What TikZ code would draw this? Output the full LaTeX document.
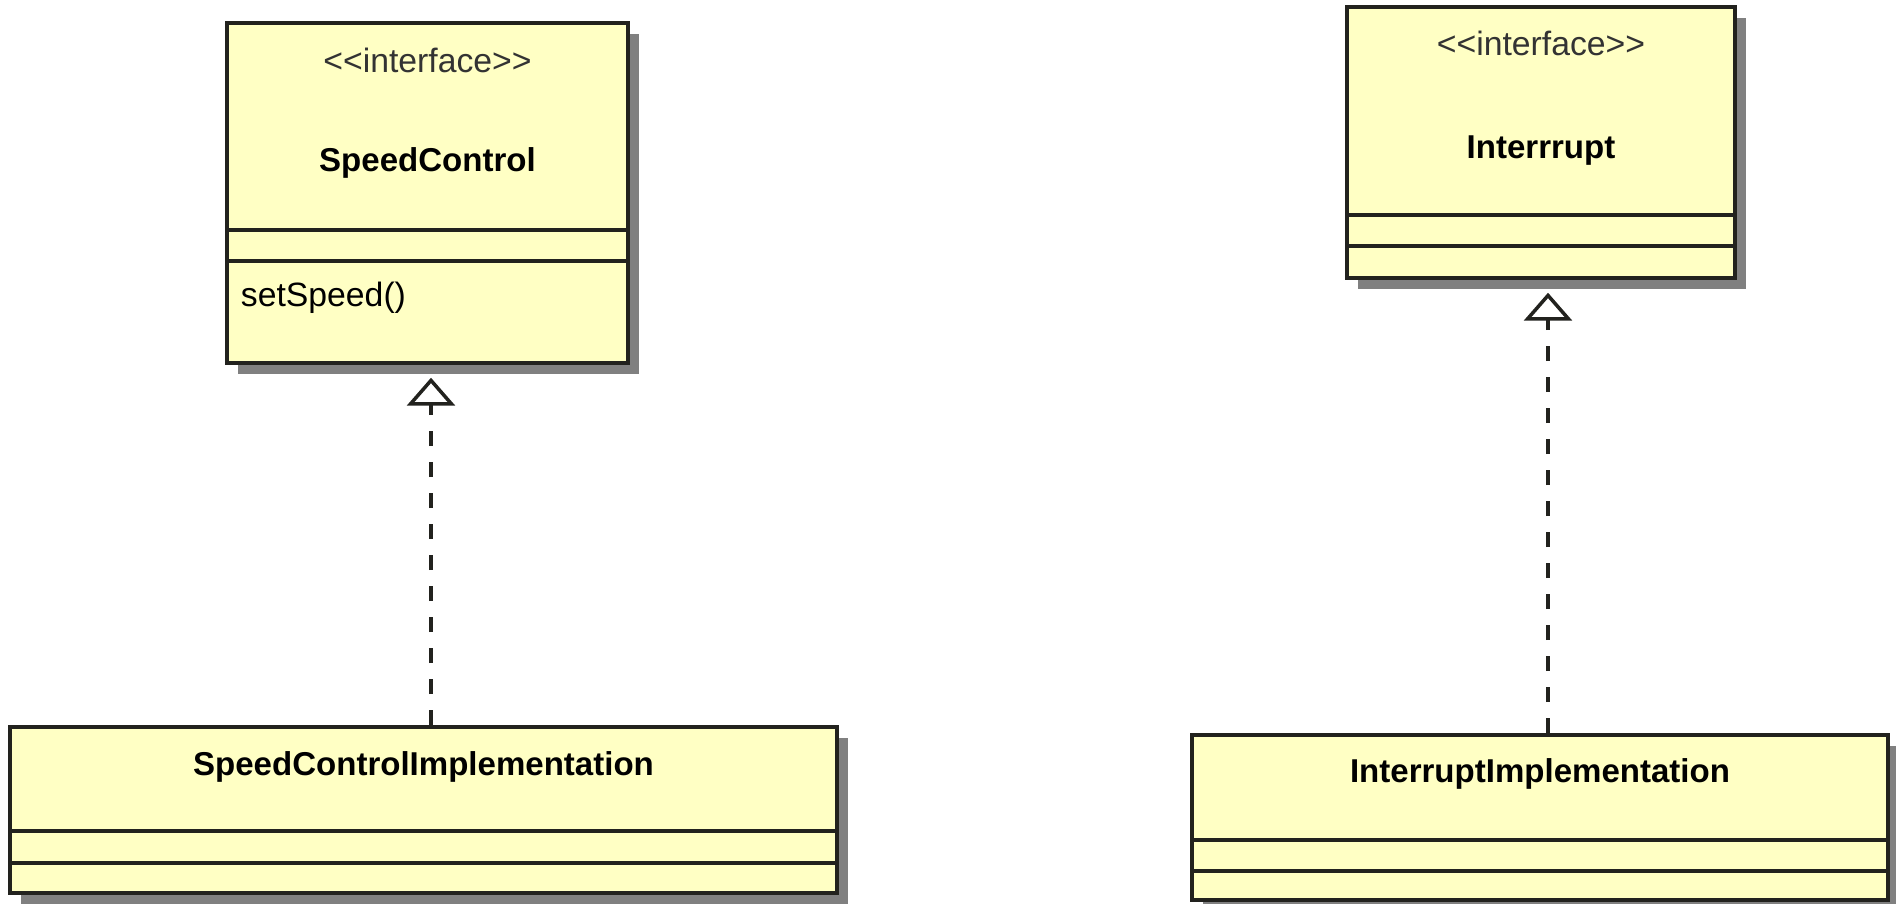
\documentclass[tikz,border=0pt]{standalone}
\usepackage{fontspec}
\setmainfont{Liberation Sans}
\usepackage{xcolor}
\usetikzlibrary{arrows.meta,positioning,shadows}

\definecolor{umlfill}{RGB}{255,255,196}
\definecolor{umlline}{RGB}{34,34,30}

\begin{document}
\begin{tikzpicture}[
    classbox/.style={rectangle, draw=umlline, fill=umlfill, line width=0.035cm, inner sep=0pt,
        drop shadow={shadow xshift=0.11cm, shadow yshift=-0.11cm, opacity=1, fill=black!50}},
    divider/.style={draw=umlline, line width=0.035cm},
    stereo/.style={font=\fontsize{9.6}{11}\selectfont, text=black!80, inner sep=0pt},
    classname/.style={font=\fontsize{9.4}{11}\selectfont\bfseries, inner sep=0pt},
    member/.style={font=\fontsize{9.6}{11}\selectfont, inner sep=0pt},
    realize/.style={-{Triangle[open, length=0.28cm, width=0.48cm, fill=white]}, line width=0.035cm,
        dash pattern=on 0.15cm off 0.16cm, draw=umlline, shorten >=0.13cm}
]
\useasboundingbox (0,0) rectangle (18.96,9.04);

% Interfaces
\node[classbox, minimum width=4.01cm, minimum height=3.40cm] (sc) at (4.275,7.11) {};
\node[classbox, minimum width=3.88cm, minimum height=2.71cm] (intr) at (15.41,7.615) {};

% Implementations
\node[classbox, minimum width=8.27cm, minimum height=1.66cm] (sci) at (4.235,0.94) {};
\node[classbox, minimum width=6.96cm, minimum height=1.65cm] (ii) at (15.40,0.865) {};

% Compartments
\draw[divider] ([yshift=-2.09cm]sc.north west) -- ([yshift=-2.09cm]sc.north east);
\draw[divider] ([yshift=-2.40cm]sc.north west) -- ([yshift=-2.40cm]sc.north east);
\draw[divider] ([yshift=-2.10cm]intr.north west) -- ([yshift=-2.10cm]intr.north east);
\draw[divider] ([yshift=-2.41cm]intr.north west) -- ([yshift=-2.41cm]intr.north east);
\draw[divider] ([yshift=-1.06cm]sci.north west) -- ([yshift=-1.06cm]sci.north east);
\draw[divider] ([yshift=-1.38cm]sci.north west) -- ([yshift=-1.38cm]sci.north east);
\draw[divider] ([yshift=-1.07cm]ii.north west) -- ([yshift=-1.07cm]ii.north east);
\draw[divider] ([yshift=-1.38cm]ii.north west) -- ([yshift=-1.38cm]ii.north east);

% Texts
\node[stereo] (scst) at ([yshift=-0.39cm]sc.north) {<\kern0pt<interface>\kern0pt>};
\node[classname] (scname) at ([yshift=-1.42cm]sc.north) {SpeedControl};
\node[member, anchor=west] (scop) at ([xshift=0.15cm, yshift=-2.77cm]sc.north west) {setSpeed()};
\node[stereo] (intrst) at ([yshift=-0.38cm]intr.north) {<\kern0pt<interface>\kern0pt>};
\node[classname] (intrname) at ([yshift=-1.45cm]intr.north) {Interrrupt};
\node[classname] (sciname) at ([yshift=-0.42cm]sci.north) {SpeedControlImplementation};
\node[classname] (iiname) at ([yshift=-0.41cm]ii.north) {InterruptImplementation};

% Realizations
\draw[realize] ([xshift=0.035cm]sc.south |- sci.north) -- ([xshift=0.035cm]sc.south);
\draw[realize] ([xshift=0.07cm]intr.south |- ii.north) -- ([xshift=0.07cm]intr.south);

\end{tikzpicture}
\end{document}
